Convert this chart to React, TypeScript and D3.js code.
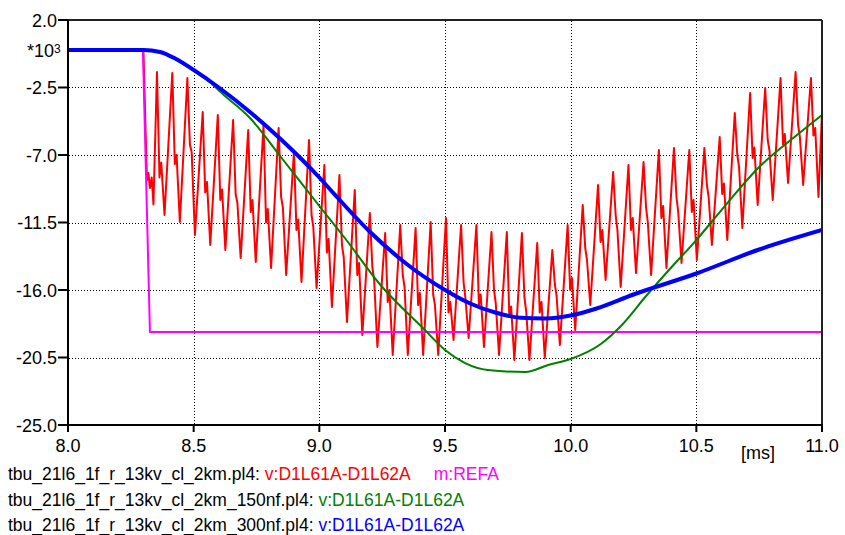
import React from "react";
import * as d3 from "d3";

const W = 845;
const H = 535;

const xTicks = [8.0, 8.5, 9.0, 9.5, 10.0, 10.5, 11.0];
const yTicks = [2.0, -2.5, -7.0, -11.5, -16.0, -20.5, -25.0];

// v:D1L61A-D1L62A, 2 km line, no capacitor [ms, kV]
const redSeries: [number, number][] = [
  [8.0, 0], [8.3, 0], [8.314, -8.7], [8.32, -8.2], [8.326, -9.2], [8.333, -8.5], [8.34, -10.3],
  [8.354, -1.47], [8.364, -8.5], [8.371, -7.5], [8.384, -11.0],
  [8.415, -1.53], [8.425, -7.6], [8.432, -7.0], [8.445, -11.47],
  [8.475, -1.87], [8.485, -6.3], [8.492, -6.8], [8.505, -12.33],
  [8.536, -4.13], [8.546, -9.5], [8.553, -8.8], [8.566, -13.0],
  [8.596, -4.33], [8.606, -10.0], [8.613, -9.3], [8.626, -13.33],
  [8.657, -4.67], [8.667, -9.6], [8.674, -10.2], [8.687, -13.87],
  [8.717, -5.33], [8.727, -10.8], [8.734, -10.0], [8.747, -14.13],
  [8.778, -5.0], [8.788, -11.5], [8.795, -10.6], [8.808, -14.53],
  [8.838, -5.2], [8.848, -9.8], [8.855, -10.5], [8.868, -15.0],
  [8.899, -6.8], [8.909, -12.0], [8.916, -11.3], [8.929, -15.47],
  [8.959, -6.0], [8.969, -11.0], [8.976, -11.8], [8.989, -15.87],
  [9.02, -7.67], [9.03, -13.5], [9.037, -12.6], [9.05, -17.13],
  [9.08, -8.33], [9.09, -13.0], [9.097, -13.8], [9.11, -18.13],
  [9.141, -9.33], [9.151, -15.0], [9.158, -14.2], [9.171, -19.0],
  [9.201, -10.87], [9.211, -14.5], [9.218, -15.3], [9.231, -19.8],
  [9.262, -12.2], [9.272, -16.8], [9.279, -16.0], [9.292, -20.33],
  [9.322, -11.67], [9.332, -15.0], [9.339, -15.8], [9.352, -20.33],
  [9.383, -11.87], [9.393, -17.0], [9.4, -16.2], [9.413, -20.33],
  [9.443, -11.47], [9.453, -16.3], [9.46, -17.0], [9.473, -20.33],
  [9.504, -11.2], [9.514, -17.5], [9.521, -16.8], [9.534, -19.33],
  [9.564, -11.67], [9.574, -15.5], [9.581, -16.5], [9.594, -19.2],
  [9.625, -11.67], [9.635, -17.0], [9.642, -16.3], [9.655, -19.8],
  [9.685, -12.13], [9.695, -16.0], [9.702, -16.9], [9.715, -20.33],
  [9.746, -12.13], [9.756, -17.8], [9.763, -17.1], [9.776, -20.67],
  [9.806, -12.2], [9.816, -16.5], [9.823, -17.4], [9.836, -20.67],
  [9.867, -12.87], [9.877, -17.5], [9.884, -16.8], [9.897, -20.53],
  [9.927, -13.33], [9.937, -15.6], [9.944, -16.4], [9.957, -19.67],
  [9.988, -11.67], [9.998, -16.0], [10.005, -15.2], [10.018, -18.67],
  [10.048, -10.33], [10.058, -13.2], [10.065, -14.0], [10.078, -17.0],
  [10.109, -9.0], [10.119, -12.8], [10.126, -12.0], [10.139, -15.33],
  [10.169, -8.13], [10.179, -11.0], [10.186, -12.0], [10.199, -15.8],
  [10.23, -7.67], [10.24, -12.0], [10.247, -11.2], [10.26, -14.87],
  [10.29, -7.47], [10.3, -10.5], [10.307, -11.5], [10.32, -15.0],
  [10.351, -6.67], [10.361, -11.2], [10.368, -10.4], [10.381, -14.53],
  [10.411, -6.53], [10.421, -9.8], [10.428, -10.8], [10.441, -14.2],
  [10.472, -6.67], [10.482, -10.8], [10.489, -10.0], [10.502, -14.0],
  [10.532, -6.53], [10.542, -9.0], [10.549, -9.8], [10.562, -13.0],
  [10.593, -5.8], [10.603, -9.6], [10.61, -8.9], [10.623, -12.67],
  [10.653, -4.2], [10.663, -7.0], [10.67, -7.8], [10.683, -11.87],
  [10.714, -2.87], [10.724, -7.2], [10.731, -6.5], [10.744, -10.33],
  [10.774, -2.53], [10.784, -6.0], [10.791, -6.7], [10.804, -10.0],
  [10.835, -1.87], [10.845, -6.3], [10.852, -5.6], [10.865, -8.87],
  [10.895, -1.47], [10.905, -5.0], [10.912, -5.8], [10.925, -9.0],
  [10.956, -1.87], [10.966, -5.7], [10.973, -5.2], [10.986, -9.8],
  [11.0, -4.2],
];

// m:REFA reference
const magentaSeries: [number, number][] = [
  [8.0, 0], [8.298, 0], [8.326, -18.8], [11.0, -18.8],
];

// v:D1L61A-D1L62A with 150 nF
const greenSeries: [number, number][] = [
  [8.0, 0], [8.3, 0], [8.366, -0.13], [8.43, -0.62], [8.5, -1.4], [8.55, -1.95],
  [8.62, -3.0], [8.724, -4.53], [8.85, -7.2], [9.0, -10.4], [9.1, -12.5],
  [9.24, -15.6], [9.42, -18.67], [9.5, -20.0], [9.58, -20.87], [9.67, -21.33],
  [9.82, -21.47], [9.91, -21.0], [10.0, -20.6], [10.12, -19.6], [10.2, -18.4],
  [10.3, -16.4], [10.4, -14.5], [10.5, -12.67], [10.6, -10.67], [10.75, -7.8],
  [10.9, -5.67], [11.0, -4.33],
];

// v:D1L61A-D1L62A with 300 nF
const blueSeries: [number, number][] = [
  [8.0, 0], [8.3, 0], [8.366, -0.13], [8.43, -0.6], [8.5, -1.33], [8.6, -2.5],
  [8.724, -4.13], [8.85, -6.0], [9.0, -8.5], [9.07, -9.8], [9.2, -12.1],
  [9.35, -14.3], [9.5, -16.0], [9.6, -16.9], [9.7, -17.5], [9.8, -17.85],
  [9.9, -17.9], [10.0, -17.7], [10.1, -17.25], [10.25, -16.3], [10.5, -14.9],
  [10.75, -13.3], [11.0, -12.0],
];

const legendRows = [
  { file: "tbu_21l6_1f_r_13kv_cl_2km.pl4: ", vars: [{ name: "v:D1L61A-D1L62A", color: "#ff0000" }, { name: "m:REFA", color: "#ff00ff" }] },
  { file: "tbu_21l6_1f_r_13kv_cl_2km_150nf.pl4: ", vars: [{ name: "v:D1L61A-D1L62A", color: "#008000" }] },
  { file: "tbu_21l6_1f_r_13kv_cl_2km_300nf.pl4: ", vars: [{ name: "v:D1L61A-D1L62A", color: "#0000ff" }] },
];

const left = 68, right = 822, top = 20, bottom = 425;
const font = "'Liberation Sans', Arial, Helvetica, sans-serif";

export default function App() {
  const x = d3.scaleLinear().domain([8, 11]).range([left, right]);
  const y = d3.scaleLinear().domain([-25, 2]).range([bottom, top]);
  const lin = d3.line<[number, number]>().x((d) => x(d[0])).y((d) => y(d[1]));
  const smooth = d3
    .line<[number, number]>()
    .x((d) => x(d[0]))
    .y((d) => y(d[1]))
    .curve(d3.curveMonotoneX);

  const legendBase = [480, 505.5, 531];

  return (
    <svg
      width={W}
      height={H}
      style={{ position: "absolute", left: 0, top: 0, background: "#fff" }}
      fontFamily={font}
    >
      <defs>
        <clipPath id="plot">
          <rect x={left} y={top} width={right - left} height={bottom - top} />
        </clipPath>
        <pattern id="dotH" x={0} y={0} width={3} height={1} patternUnits="userSpaceOnUse">
          <rect x={0} y={0} width={1} height={1} fill="#000" />
        </pattern>
        <pattern id="dotV" x={0} y={0} width={1} height={3} patternUnits="userSpaceOnUse">
          <rect x={0} y={0} width={1} height={1} fill="#000" />
        </pattern>
      </defs>
      {/* dotted grid */}
      <g>
        {xTicks.slice(1, -1).map((t) => (
          <rect
            key={"gx" + t}
            x={Math.round(x(t))}
            y={top}
            width={1}
            height={bottom - top}
            fill="url(#dotV)"
          />
        ))}
        {yTicks.slice(1, -1).map((t) => (
          <rect
            key={"gy" + t}
            x={left}
            y={Math.round(y(t))}
            width={right - left}
            height={1}
            fill="url(#dotH)"
          />
        ))}
      </g>
      {/* curves */}
      <g clipPath="url(#plot)" fill="none" strokeLinejoin="round">
        <path d={lin(redSeries) || ""} stroke="#ff0000" strokeWidth={2} />
        <path d={lin(magentaSeries) || ""} stroke="#ff00ff" strokeWidth={2} />
        <path d={smooth(greenSeries) || ""} stroke="#008000" strokeWidth={2} />
        <path d={smooth(blueSeries) || ""} stroke="#0000ff" strokeWidth={4} />
      </g>
      {/* frame */}
      <line x1={left} x2={right} y1={top} y2={top} stroke="#222" strokeWidth={2} />
      <line x1={right} x2={right} y1={top} y2={bottom} stroke="#222" strokeWidth={2} />
      <line x1={left} x2={left} y1={top} y2={bottom + 1} stroke="#000" strokeWidth={2} />
      <line x1={left - 1} x2={right + 1} y1={bottom} y2={bottom} stroke="#000" strokeWidth={2} />
      {/* y axis ticks */}
      {yTicks.map((t) => (
        <g key={"yt" + t}>
          <line x1={left - 10} x2={left} y1={y(t)} y2={y(t)} stroke="#000" strokeWidth={2} />
          <text x={left - 11} y={y(t) + 6.5} textAnchor="end" fontSize={18} fill="#000">
            {t.toFixed(1)}
          </text>
        </g>
      ))}
      <text x={27} y={57} fontSize={18} fill="#000">
        *10
        <tspan fontSize={12} dy={-4}>3</tspan>
      </text>
      {/* x axis ticks */}
      {xTicks.map((t) => (
        <g key={"xt" + t}>
          <line x1={x(t)} x2={x(t)} y1={bottom} y2={bottom + 7} stroke="#000" strokeWidth={2} />
          <text x={x(t)} y={452} textAnchor="middle" fontSize={18} fill="#000">
            {t.toFixed(1)}
          </text>
        </g>
      ))}
      <text x={741} y={459} fontSize={18} fill="#000">[ms]</text>
      {/* legend */}
      {legendRows.map((row, i) => (
        <text key={"lg" + i} x={8} y={legendBase[i]} fontSize={17.5} fill="#000" xmlSpace="preserve">
          <tspan>{row.file}</tspan>
          {row.vars.map((v, j) => (
            <tspan key={j} fill={v.color} dx={j > 0 ? 23 : 0}>
              {v.name}
            </tspan>
          ))}
        </text>
      ))}
    </svg>
  );
}
